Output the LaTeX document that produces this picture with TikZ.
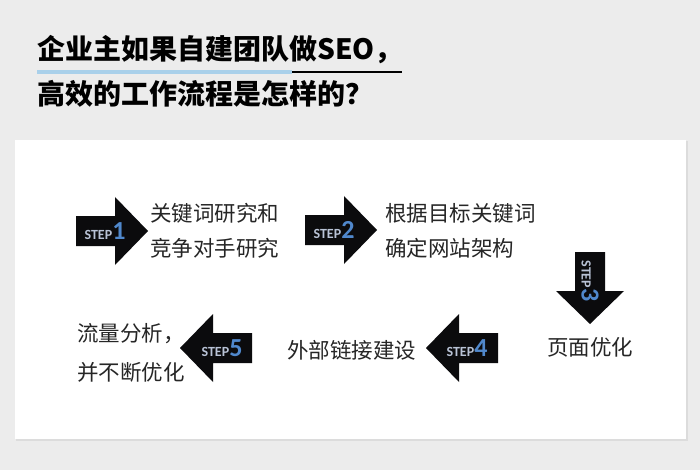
\documentclass[tikz,border=0pt]{standalone}
\usepackage{fontspec}
\setmainfont{Noto Sans CJK SC}
\newfontfamily\cjk{Noto Sans CJK SC}
\newfontfamily\stepfont{Carlito}
\definecolor{bg}{HTML}{ECECEC}
\definecolor{shadowc}{HTML}{DCDCDC}
\definecolor{uline}{HTML}{A9D0EA}
\definecolor{stepgray}{HTML}{B9C3D6}
\definecolor{stepblue}{HTML}{5088CC}
\definecolor{txt}{HTML}{262626}
\definecolor{arrowc}{HTML}{0B0B0D}
\newcommand{\steplab}[1]{{\fontsize{14}{14}\selectfont\color{stepgray}STEP}{\fontsize{26}{26}\selectfont\color{stepblue}#1}}
\begin{document}
\begin{tikzpicture}[x=1pt,y=-1pt,
  arrowbody/.style={fill=arrowc},
  bodytext/.style={font=\cjk\fontsize{21.5}{35}\selectfont, text=txt, inner sep=0pt, align=left},
  titletext/.style={font=\cjk\bfseries\fontsize{28}{28}\selectfont, text=black, inner sep=0pt, anchor=west},
  steplabel/.style={inner sep=0pt, font=\stepfont\bfseries},
  steparr/.pic={\fill[arrowbody] (-36,-15) -- (3,-15) -- (3,-34) -- (36,0) -- (3,34) -- (3,15) -- (-36,15) -- cycle;}
]
\useasboundingbox (0,0) rectangle (700,470);
\fill[bg] (0,0) rectangle (700,470);
% panel
\fill[shadowc] (16,141) rectangle (688,441);
\fill[white] (15,140) rectangle (686,439);

% title
\node[titletext] (t1) at (37,50) {企业主如果自建团队做SEO，};
\node[titletext] (t2) at (37,94) {高效的工作流程是怎样的？};
\draw[uline, line width=3.5pt] (37,72) -- (292,72);
\draw[black, line width=2.5pt] (292,72) -- (402,72);

% arrows
\pic (a1) at (112,231) {steparr};
\pic (a2) at (341,230) {steparr};
\pic[rotate=-90] (a3) at (590,288) {steparr};
\pic[rotate=180] (a4) at (462,348) {steparr};
\pic[rotate=180] (a5) at (216,348) {steparr};

% step labels
\node[steplabel] (s1) at (105,231) {\steplab{1}};
\node[steplabel] (s2) at (334,230) {\steplab{2}};
\node[steplabel, rotate=-90] (s3) at (590,281) {\steplab{3}};
\node[steplabel] (s4) at (467,348) {\steplab{4}};
\node[steplabel] (s5) at (222,348) {\steplab{5}};

% texts
\node[bodytext, anchor=west] (b1) at (150,230.5) {关键词研究和\\竞争对手研究};
\node[bodytext, anchor=west] (b2) at (385,230.5) {根据目标关键词\\确定网站架构};
\node[bodytext] (b3) at (590,347) {页面优化};
\node[bodytext, anchor=west] (b4) at (287,350) {外部链接建设};
\node[bodytext, anchor=west, font=\cjk\fontsize{21.5}{39}\selectfont] (b5) at (77,352.5) {流量分析，\\并不断优化};
\end{tikzpicture}
\end{document}
